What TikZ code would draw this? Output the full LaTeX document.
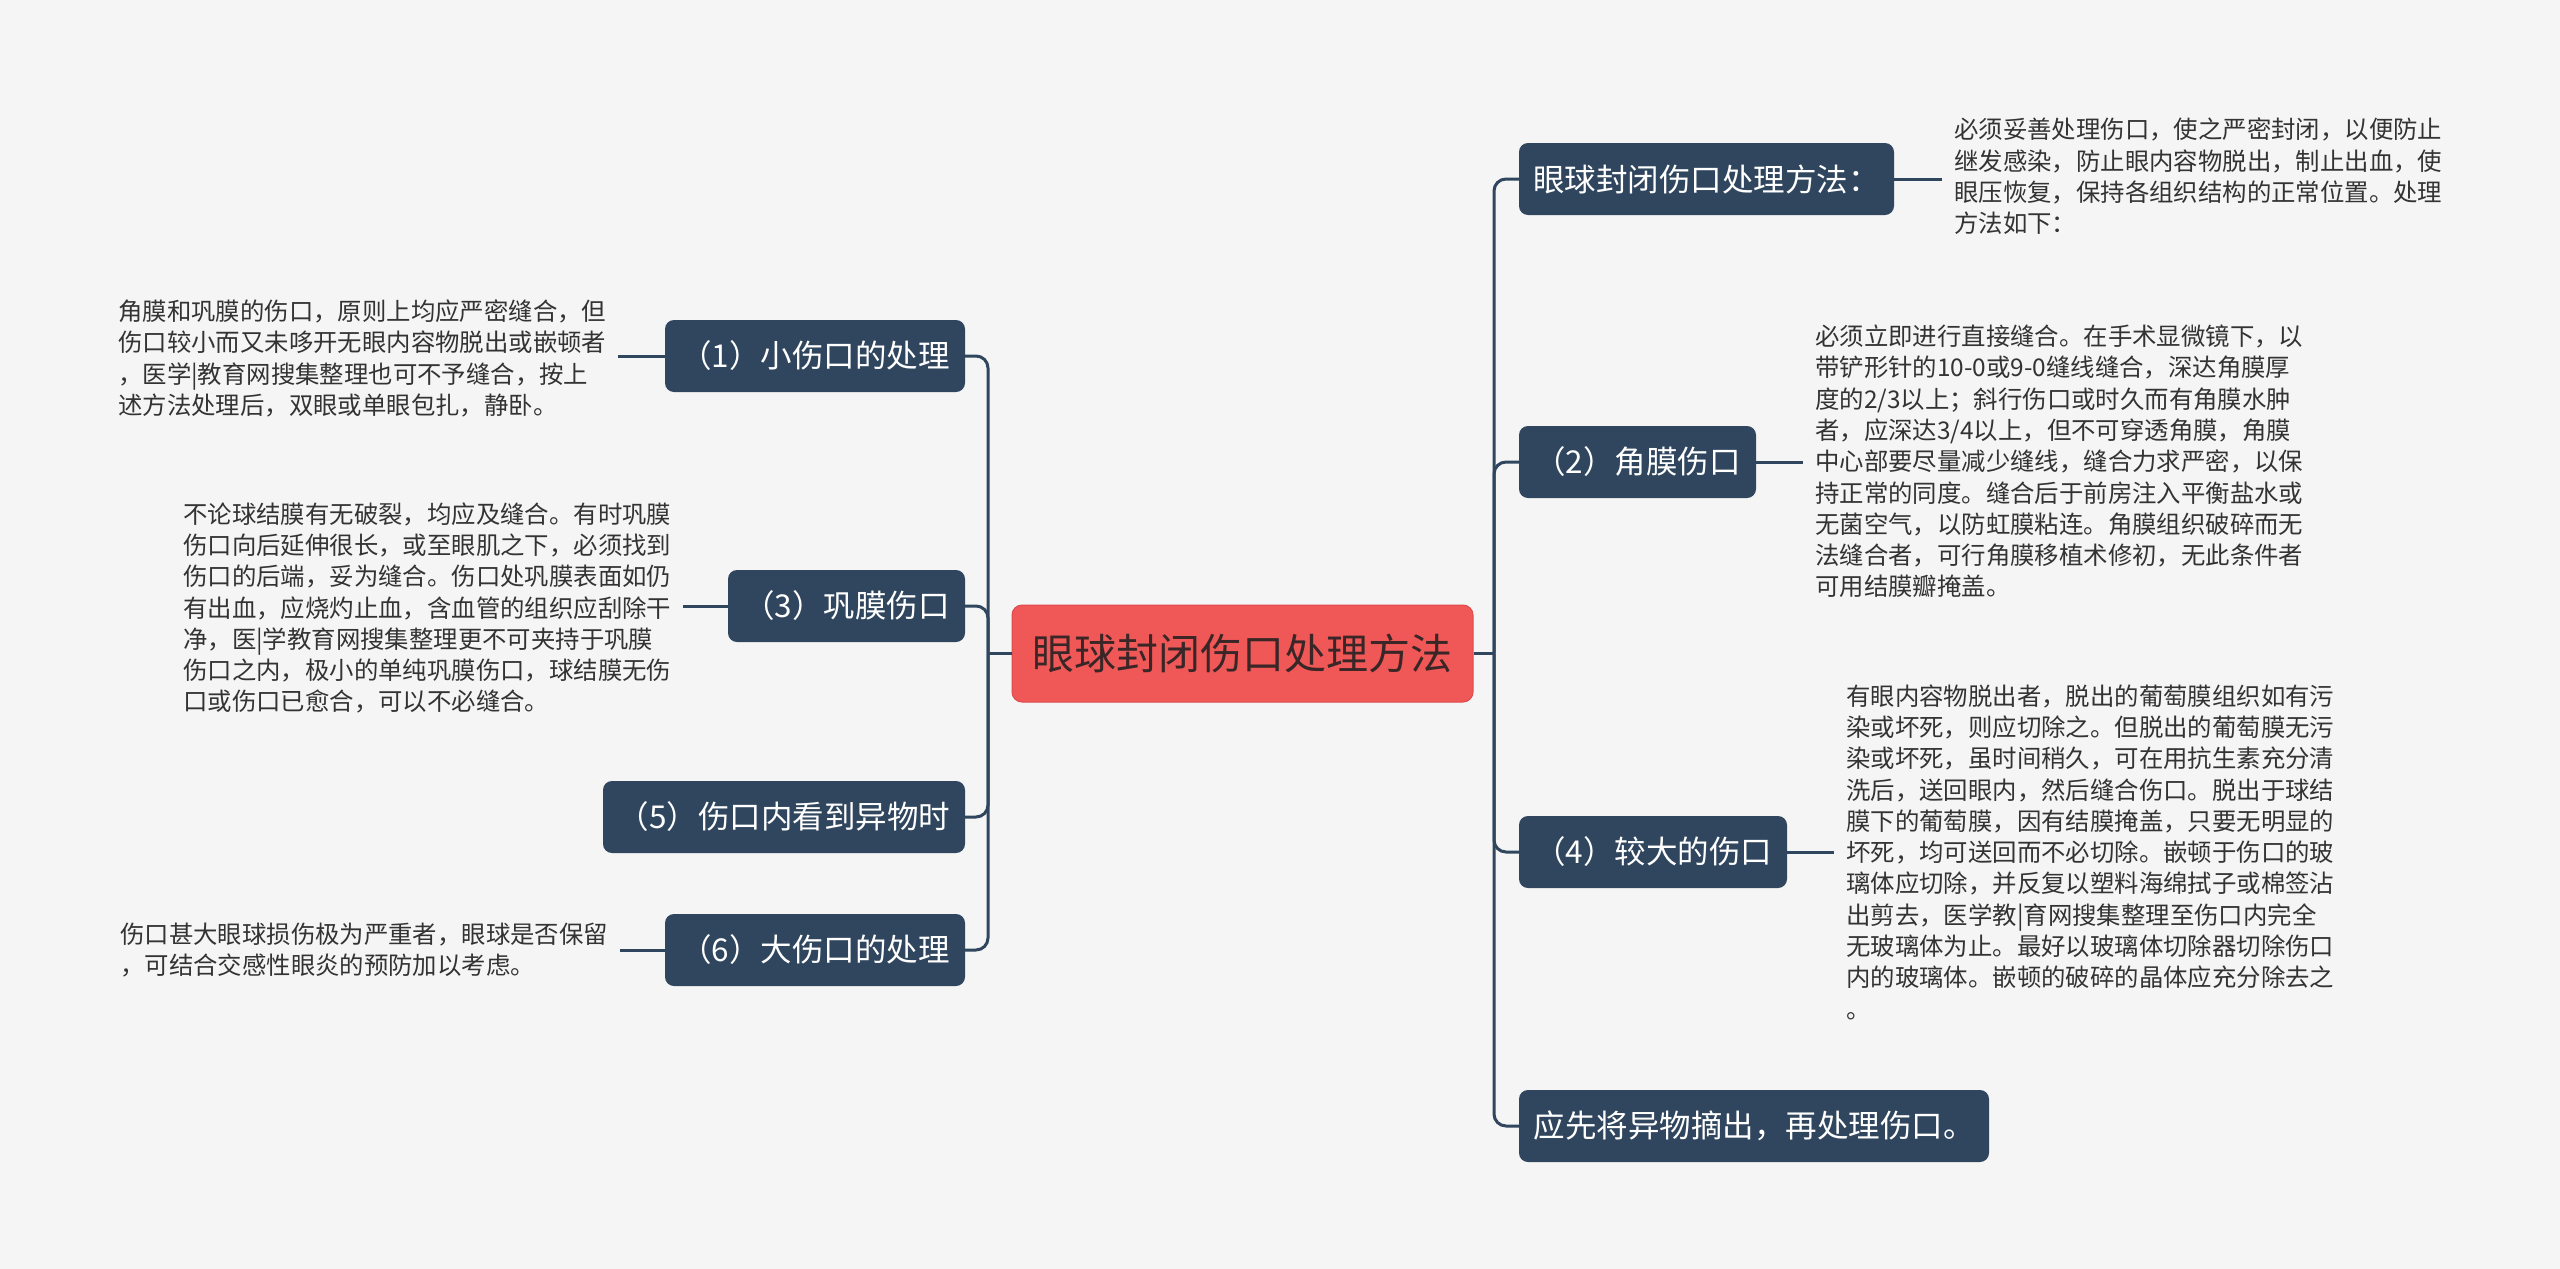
\documentclass[tikz,border=0pt]{standalone}
\usepackage{fontspec}
\setmainfont{Noto Sans CJK SC}
\definecolor{bgc}{HTML}{F5F5F5}
\definecolor{boxc}{HTML}{30465E}
\definecolor{rootc}{HTML}{F05858}
\definecolor{rootb}{HTML}{DE4A4A}
\definecolor{leafc}{HTML}{333333}
\definecolor{roottext}{HTML}{3A2626}
\begin{document}
\begin{tikzpicture}[x=1pt,y=-1pt,
  branch/.style={rectangle, rounded corners=9pt, fill=boxc, text=white,
    font=\fontsize{31.5}{37}\selectfont, minimum height=72pt, inner sep=0pt},
  rootnode/.style={rectangle, rounded corners=10pt, fill=rootc, draw=rootb, line width=1pt,
    text=roottext, font=\fontsize{42}{48}\selectfont, minimum width=461pt, minimum height=97pt, inner sep=0pt},
  leaf/.style={align=left, inner xsep=12pt, inner ysep=0pt, text=leafc,
    font=\fontsize{24.4}{31.3}\selectfont},
  conn/.style={draw=boxc, line width=3pt},
]
\fill[bgc] (0,0) rectangle (2560,1269);
\useasboundingbox (0,0) rectangle (2560,1269);

% root
\node[rootnode] (root) at (1242.5,653.5) {眼球封闭伤口处理方法};

% left branches
\node[branch, minimum width=300pt] (c1) at (815,356) {（1）小伤口的处理};
\node[branch, minimum width=237pt] (c3) at (846.5,606) {（3）巩膜伤口};
\node[branch, minimum width=362pt] (c5) at (784,817) {（5）伤口内看到异物时};
\node[branch, minimum width=300pt] (c6) at (815,950) {（6）大伤口的处理};

% right branches
\node[branch, minimum width=375pt] (r1) at (1706.5,179) {眼球封闭伤口处理方法：};
\node[branch, minimum width=237pt] (r2) at (1637.5,462) {（2）角膜伤口};
\node[branch, minimum width=268pt] (r4) at (1653,852) {（4）较大的伤口};
\node[branch, minimum width=470pt] (r6) at (1754,1126) {应先将异物摘出，再处理伤口。};

% left leaves
\node[leaf, anchor=west] (l1) at (106,358.5) {角膜和巩膜的伤口，原则上均应严密缝合，但\\伤口较小而又未哆开无眼内容物脱出或嵌顿者\\，医学|教育网搜集整理也可不予缝合，按上\\述方法处理后，双眼或单眼包扎，静卧。};
\node[leaf, anchor=west] (l3) at (171,608) {不论球结膜有无破裂，均应及缝合。有时巩膜\\伤口向后延伸很长，或至眼肌之下，必须找到\\伤口的后端，妥为缝合。伤口处巩膜表面如仍\\有出血，应烧灼止血，含血管的组织应刮除干\\净，医|学教育网搜集整理更不可夹持于巩膜\\伤口之内，极小的单纯巩膜伤口，球结膜无伤\\口或伤口已愈合，可以不必缝合。};
\node[leaf, anchor=west] (l6) at (108,950) {伤口甚大眼球损伤极为严重者，眼球是否保留\\，可结合交感性眼炎的预防加以考虑。};

% right leaves
\node[leaf, anchor=west] (t1) at (1942,176.5) {必须妥善处理伤口，使之严密封闭，以便防止\\继发感染，防止眼内容物脱出，制止出血，使\\眼压恢复，保持各组织结构的正常位置。处理\\方法如下：};
\node[leaf, anchor=west] (t2) at (1803,461.5) {必须立即进行直接缝合。在手术显微镜下，以\\带铲形针的10-0或9-0缝线缝合，深达角膜厚\\度的2/3以上；斜行伤口或时久而有角膜水肿\\者，应深达3/4以上，但不可穿透角膜，角膜\\中心部要尽量减少缝线，缝合力求严密，以保\\持正常的同度。缝合后于前房注入平衡盐水或\\无菌空气，以防虹膜粘连。角膜组织破碎而无\\法缝合者，可行角膜移植术修初，无此条件者\\可用结膜瓣掩盖。};
\node[leaf, anchor=west] (t4) at (1834,852) {有眼内容物脱出者，脱出的葡萄膜组织如有污\\染或坏死，则应切除之。但脱出的葡萄膜无污\\染或坏死，虽时间稍久，可在用抗生素充分清\\洗后，送回眼内，然后缝合伤口。脱出于球结\\膜下的葡萄膜，因有结膜掩盖，只要无明显的\\坏死，均可送回而不必切除。嵌顿于伤口的玻\\璃体应切除，并反复以塑料海绵拭子或棉签沾\\出剪去，医学教|育网搜集整理至伤口内完全\\无玻璃体为止。最好以玻璃体切除器切除伤口\\内的玻璃体。嵌顿的破碎的晶体应充分除去之\\。};

% trunk connectors
\coordinate (LJ) at (988,653.5);
\coordinate (RJ) at (1494,653.5);
\draw[conn] (root.west) -- (LJ);
\draw[conn] (root.east) -- (RJ);
\foreach \n in {c1,c3,c5,c6} \draw[conn, rounded corners=12pt] (LJ) |- (\n.east);
\foreach \n in {r1,r2,r4,r6} \draw[conn, rounded corners=12pt] (RJ) |- (\n.west);

% leaf connectors
\draw[conn] (c1.west) -- (c1.west -| l1.east);
\draw[conn] (c3.west) -- (c3.west -| l3.east);
\draw[conn] (c6.west) -- (c6.west -| l6.east);
\draw[conn] (r1.east) -- (r1.east -| t1.west);
\draw[conn] (r2.east) -- (r2.east -| t2.west);
\draw[conn] (r4.east) -- (r4.east -| t4.west);
\end{tikzpicture}
\end{document}
